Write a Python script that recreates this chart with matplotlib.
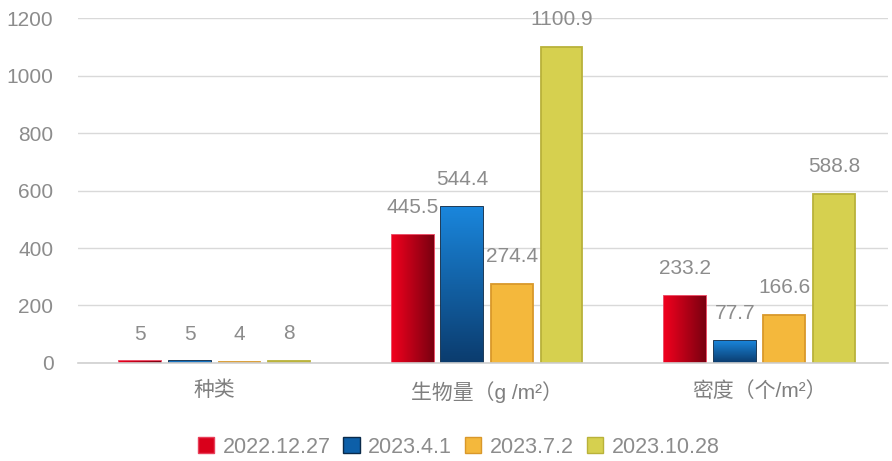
import numpy as np
import matplotlib.pyplot as plt
from matplotlib.patches import Patch
from matplotlib import colors

plt.rcParams['font.family'] = ['Liberation Sans', 'Noto Sans CJK SC', 'DejaVu Sans']

categories = ['种类', '生物量（g /m²）', '密度（个/m²）']
series = ['2022.12.27', '2023.4.1', '2023.7.2', '2023.10.28']
values = [
    [5, 445.5, 233.2],
    [5, 544.4, 77.7],
    [4, 274.4, 166.6],
    [8, 1100.9, 588.8],
]
labels = [
    ['5', '445.5', '233.2'],
    ['5', '544.4', '77.7'],
    ['4', '274.4', '166.6'],
    ['8', '1100.9', '588.8'],
]
face = ['#d9001b', '#0d5fa8', '#f4b83c', '#d6d04f']
edge = ['#e8405a', '#0a2a4a', '#d9982a', '#b9b23a']
# gradient end colours (None = flat fill)
grad = [('#f0001e', '#7a0010', 'h'), ('#1a86dc', '#0b3c6e', 'v'), None, None]

fig = plt.figure(figsize=(8.92, 4.61), dpi=100)
ax = fig.add_axes([0.088, 0.213, 0.907, 0.747])

x = np.arange(len(categories))
w = 0.153
pitch = 0.182
txt = '#8c8c8c'
fs = 15

for i in range(len(series)):
    pos = x + (i - 1.5) * pitch
    bars = ax.bar(pos, values[i], w, color=face[i], edgecolor=edge[i],
                  linewidth=1.3, zorder=3)
    if grad[i] is not None:
        c0, c1, d = grad[i]
        cm = colors.LinearSegmentedColormap.from_list('g%d' % i, [c0, c1])
        g = np.linspace(0, 1, 64)
        img = g.reshape(1, -1) if d == 'h' else g.reshape(-1, 1)
        for b in bars:
            bx, by = b.get_x(), b.get_y()
            bw, bh = b.get_width(), b.get_height()
            im = ax.imshow(img, cmap=cm, aspect='auto', origin='upper',
                           extent=(bx, bx + bw, by, by + bh), zorder=3.5)
            im.set_clip_path(b)
    for b, lab in zip(bars, labels[i]):
        ax.annotate(lab, (b.get_x() + b.get_width() / 2, b.get_height()),
                    xytext=(0, 19.5), textcoords='offset points',
                    ha='center', va='center', fontsize=fs, color=txt,
                    zorder=5)

ax.set_ylim(0, 1200)
ax.set_xlim(-0.5, 2.47)
ax.set_yticks(np.arange(0, 1201, 200))
ax.set_xticks(x)
ax.set_xticklabels(categories)
ax.tick_params(axis='y', length=0, pad=18, labelsize=fs, labelcolor=txt)
ax.tick_params(axis='x', length=0, pad=13, labelsize=fs, labelcolor='#7f7f7f')
ax.grid(axis='y', color='#d9d9d9', linewidth=1.0, zorder=0)
for s in ['top', 'right', 'left']:
    ax.spines[s].set_visible(False)
ax.spines['bottom'].set_color('#d0d0d0')
ax.spines['bottom'].set_linewidth(1.2)
ax.spines['bottom'].set_zorder(4)

handles = [Patch(facecolor=face[i], edgecolor=edge[i], label=series[i])
           for i in range(len(series))]
fig.legend(handles=handles, loc='center', bbox_to_anchor=(0.514, 0.03),
           ncol=4, frameon=False, fontsize=15.5, labelcolor=txt,
           handlelength=0.75, handleheight=0.75, handletextpad=0.4,
           columnspacing=0.6)

fig.savefig('out.png', dpi=100)
